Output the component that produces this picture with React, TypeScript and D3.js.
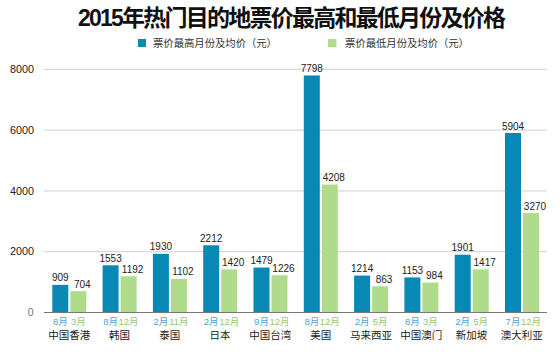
import React, { useEffect } from "react";
import * as d3 from "d3";

const categories = ["中国香港", "韩国", "泰国", "日本", "中国台湾", "美国", "马来西亚", "中国澳门", "新加坡", "澳大利亚"];
const highValues = [909, 1553, 1930, 2212, 1479, 7798, 1214, 1153, 1901, 5904];
const lowValues = [704, 1192, 1102, 1420, 1226, 4208, 863, 984, 1417, 3270];
const highMonths = ["8月", "8月", "2月", "2月", "9月", "8月", "2月", "8月", "2月", "7月"];
const lowMonths = ["3月", "12月", "11月", "12月", "12月", "12月", "5月", "3月", "5月", "12月"];
const yTicks = [0, 2000, 4000, 6000, 8000];
const seriesNames = ["票价最高月份及均价（元）", "票价最低月份及均价（元）"];
const title = "2015年热门目的地票价最高和最低月份及价格";

const W = 560;
const H = 357;
const BLUE = "#0788b5";
const GREEN = "#afdc8b";
const BLUE_TXT = "#4d9fd6";
const GREEN_TXT = "#93c772";
const FONT = "'Liberation Sans', Arial, 'Noto Sans CJK SC', sans-serif";

export default function App() {
  useEffect(() => {
    document.body.style.margin = "0";
  }, []);

  const x = d3.scaleBand<string>().domain(categories).range([44, 547]).padding(0);
  const inner = d3.scaleBand<string>().domain(["high", "low"]).range([8.3, 42.3]).paddingInner(0.111);
  const y = d3.scaleLinear().domain([0, 8000]).range([312.5, 69.3]);

  const data = categories.map((c, i) => ({
    c,
    high: highValues[i],
    low: lowValues[i],
    hm: highMonths[i],
    lm: lowMonths[i],
  }));

  const bw = inner.bandwidth();

  return (
    <svg width={W} height={H} style={{ display: "block", background: "#fff" }} fontFamily={FONT}>
      <text x={78} y={26} fontSize={23} fontWeight="bold" fill="#111" textLength={428} lengthAdjust="spacing">
        {title}
      </text>
      {/* legend */}
      <rect x={138} y={39} width={8} height={8} fill={BLUE} />
      <text x={153} y={46.5} fontSize={10.4} fill="#333" textLength={124} lengthAdjust="spacing">{seriesNames[0]}</text>
      <rect x={328} y={39} width={8.5} height={8} fill={GREEN} />
      <text x={345} y={46.5} fontSize={10.4} fill="#333" textLength={124} lengthAdjust="spacing">{seriesNames[1]}</text>

      {/* grid */}
      {yTicks.map((t) => (
        <g key={t}>
          {t !== 0 && <line x1={44} x2={547} y1={y(t)} y2={y(t)} stroke="#cfcfcf" strokeWidth={1} />}
          <text
            x={t === 0 ? 33.5 : 34}
            y={y(t)}
            dy="0.35em"
            textAnchor="end"
            fontSize={t === 0 ? 10.5 : 10.8}
            fill={t === 0 ? "#777" : "#222"}
          >
            {t}
          </text>
        </g>
      ))}

      {data.map((d) => {
        const x0 = x(d.c)!;
        const xh = x0 + inner("high")!;
        const xl = x0 + inner("low")!;
        return (
          <g key={d.c}>
            <rect x={xh} y={y(d.high)} width={bw} height={y(0) - y(d.high)} fill={BLUE} />
            <rect x={xl} y={y(d.low)} width={bw} height={y(0) - y(d.low)} fill={GREEN} />
            <text x={xh + bw / 2} y={y(d.high) - 3.5} textAnchor="middle" fontSize={10} fill="#222">
              {d.high}
            </text>
            <text x={xl + bw / 2 + 4} y={y(d.low) - 3.5} textAnchor="middle" fontSize={10} fill="#222">
              {d.low}
            </text>
            <text x={xh + bw / 2} y={324.5} textAnchor="middle" fontSize={9.5} fill={BLUE_TXT}>
              {d.hm}
            </text>
            <text x={xl + bw / 2} y={324.5} textAnchor="middle" fontSize={9.5} fill={GREEN_TXT}>
              {d.lm}
            </text>
            <text x={x0 + x.bandwidth() / 2} y={338.5} textAnchor="middle" fontSize={10.5} fill="#222">
              {d.c}
            </text>
          </g>
        );
      })}

      <line x1={44} x2={547} y1={y(0)} y2={y(0)} stroke="#777" strokeWidth={1} />
    </svg>
  );
}
